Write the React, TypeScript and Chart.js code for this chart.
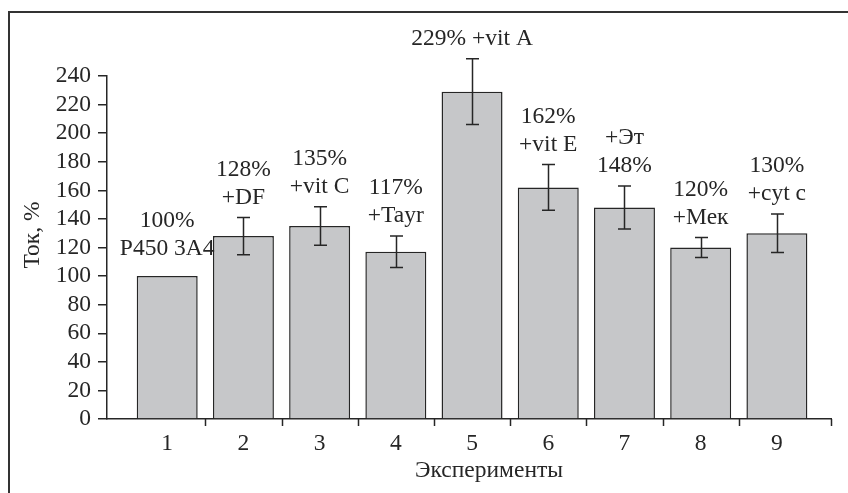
import React, { useEffect, useRef } from "react";
import { Chart, registerables } from "chart.js";

Chart.register(...registerables);

const experiments = [1, 2, 3, 4, 5, 6, 7, 8, 9];
const currentPct = [100, 128, 135, 117, 229, 162, 148, 120, 130];
const errorPct = [0, 13, 13.5, 11, 23, 16, 15, 7, 13.5];
const barLabels: string[][] = [
  ["100%", "P450 3A4"],
  ["128%", "+DF"],
  ["135%", "+vit C"],
  ["117%", "+Tayr"],
  ["229% +vit A"],
  ["162%", "+vit E"],
  ["+Эт", "148%"],
  ["120%", "+Мек"],
  ["130%", "+cyt c"],
];
const yTickMax = 240;
const yTickStep = 20;
const xTitle = "Эксперименты";
const yTitle = "Ток, %";

const FONT = "'Liberation Serif', 'Times New Roman', serif";
const FS = 23.5;
const INK = "#262626";

const overlayPlugin = {
  id: "overlay",
  afterDatasetsDraw(chart: any) {
    const ctx = chart.ctx;
    const xs = chart.scales.x;
    const ys = chart.scales.y;
    const area = chart.chartArea;
    ctx.save();
    ctx.strokeStyle = INK;
    ctx.lineWidth = 1.5;
    const marks = experiments.slice(0, -1).map((v) => v + 0.5);
    marks.push(xs.max);
    marks.forEach((m) => {
      const px = Math.round(xs.getPixelForValue(m)) + 0.5;
      ctx.beginPath();
      ctx.moveTo(px, area.bottom);
      ctx.lineTo(px, area.bottom + 7);
      ctx.stroke();
    });
    experiments.forEach((xv, i) => {
      const e = errorPct[i];
      if (!e) return;
      const px = Math.round(xs.getPixelForValue(xv)) + 0.5;
      const top = ys.getPixelForValue(currentPct[i] + e);
      const bot = ys.getPixelForValue(currentPct[i] - e);
      ctx.lineWidth = 1.5;
      ctx.beginPath();
      ctx.moveTo(px, top);
      ctx.lineTo(px, bot);
      ctx.moveTo(px - 6.5, top);
      ctx.lineTo(px + 6.5, top);
      ctx.moveTo(px - 6.5, bot);
      ctx.lineTo(px + 6.5, bot);
      ctx.stroke();
    });
    ctx.fillStyle = INK;
    ctx.font = `${FS}px ${FONT}`;
    ctx.textAlign = "center";
    ctx.textBaseline = "middle";
    experiments.forEach((xv, i) => {
      const e = errorPct[i];
      const px = xs.getPixelForValue(xv);
      const anchor = e
        ? ys.getPixelForValue(currentPct[i] + e)
        : ys.getPixelForValue(currentPct[i]) - 7;
      const lines = barLabels[i];
      lines.forEach((t, k) => {
        const y = anchor - 20 - (lines.length - 1 - k) * 28;
        ctx.fillText(t, px, y);
      });
    });
    ctx.fillText(xTitle, 489, 471);
    ctx.translate(33, 235);
    ctx.rotate(-Math.PI / 2);
    ctx.fillText(yTitle, 0, 0);
    ctx.restore();
  },
};

export default function App() {
  const ref = useRef<HTMLCanvasElement | null>(null);
  useEffect(() => {
    if (!ref.current) return;
    const chart = new Chart(ref.current, {
      type: "bar",
      data: {
        datasets: [
          {
            data: experiments.map((x, i) => ({ x, y: currentPct[i] })),
            backgroundColor: "#c6c7c9",
            borderColor: INK,
            borderWidth: 1.5,
            barPercentage: 0.8,
            categoryPercentage: 1,
          },
        ],
      },
      options: {
        animation: false,
        responsive: false,
        devicePixelRatio: 1,
        layout: { padding: { left: 0, right: 17, top: 76, bottom: 0 } },
        plugins: { legend: { display: false }, tooltip: { enabled: false } },
        scales: {
          x: {
            type: "linear",
            offset: false,
            min: 0.21,
            max: 9.71,
            afterBuildTicks: (s: any) => {
              s.ticks = experiments.map((v) => ({ value: v }));
            },
            afterFit: (s: any) => {
              s.height = 74;
            },
            ticks: {
              color: INK,
              font: { family: FONT, size: FS },
              padding: 11,
              maxRotation: 0,
              autoSkip: false,
              callback: (v: any) => String(v),
            },
            grid: { display: false, drawTicks: false },
            border: { display: true, color: INK, width: 1.5 },
          },
          y: {
            min: 0,
            max: yTickMax,
            afterFit: (s: any) => {
              s.width = 107;
            },
            ticks: {
              stepSize: yTickStep,
              autoSkip: false,
              color: INK,
              font: { family: FONT, size: FS },
              padding: 7,
            },
            grid: {
              display: true,
              drawOnChartArea: false,
              drawTicks: true,
              tickLength: 9,
              color: INK,
              lineWidth: 1.5,
            },
            border: { display: true, color: INK, width: 1.5 },
          },
        },
      },
      plugins: [overlayPlugin],
    });
    return () => chart.destroy();
  }, []);
  return (
    <div style={{ position: "fixed", left: 0, top: 0, width: 848, height: 493, overflow: "hidden", background: "#fff" }}>
      <div
        style={{
          position: "absolute",
          left: 8,
          top: 11,
          width: 840,
          height: 482,
          boxSizing: "border-box",
          borderLeft: "2px solid #333",
          borderTop: "2px solid #333",
        }}
      />
      <canvas ref={ref} width={848} height={493} style={{ position: "absolute", left: 0, top: 0, width: 848, height: 493 }} />
    </div>
  );
}
